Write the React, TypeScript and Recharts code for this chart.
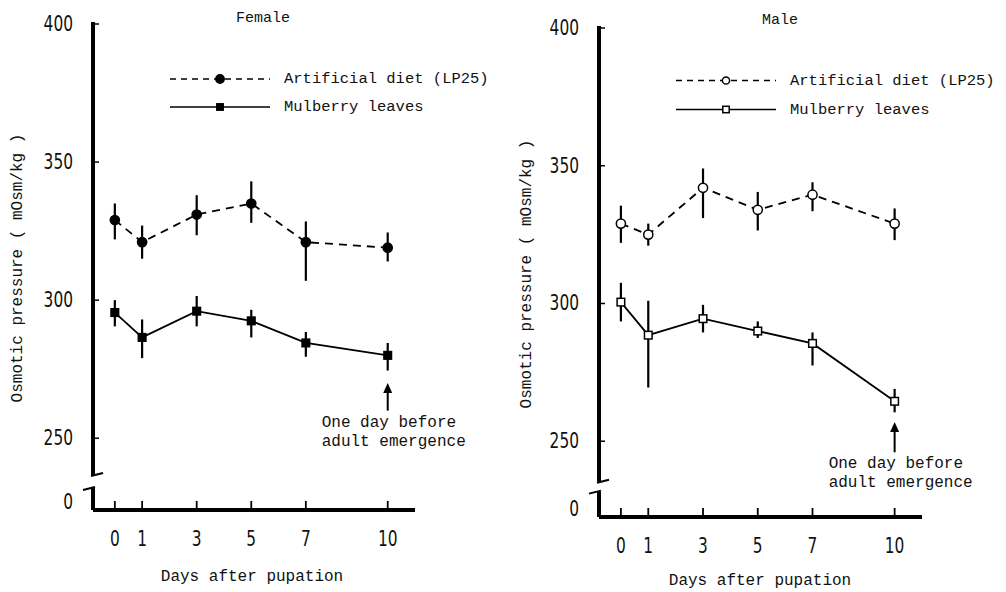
import React from "react";
import { ErrorBar, Legend, Line, LineChart, ReferenceLine, XAxis, YAxis } from "recharts";

const days = [0, 1, 3, 5, 7, 10];
const yTicks = [250, 300, 350, 400];

const femaleDietMean = [329, 321, 331, 335, 321, 319];
const femaleDietLow = [322, 315, 323.5, 328, 307, 314];
const femaleDietHigh = [335, 327, 338, 343, 328.5, 324.5];
const femaleLeafMean = [295.5, 286.5, 296, 292.5, 284.5, 280];
const femaleLeafLow = [290.5, 279, 290.5, 286.5, 279.5, 274.5];
const femaleLeafHigh = [300, 293, 301.5, 296.5, 288.5, 284.5];

const maleDietMean = [329, 325, 342, 334, 339.5, 329];
const maleDietLow = [322, 321, 331, 326.5, 333.5, 323];
const maleDietHigh = [335.5, 329, 349, 340.5, 344, 334.5];
const maleLeafMean = [300.5, 288.5, 294.5, 290, 285.5, 264.5];
const maleLeafLow = [293.5, 269.5, 289.5, 287.5, 277.5, 260.5];
const maleLeafHigh = [307.5, 301, 299.5, 293.5, 289.5, 269];

const MONO = '"Liberation Mono", "DejaVu Sans Mono", monospace';
const NUM = '"Liberation Sans Narrow", "DejaVu Sans Condensed", "Liberation Sans", sans-serif';

type PanelProps = {
  title: string;
  left: number;
  margin: { top: number; right: number; bottom: number; left: number };
  zero: number;
  breakTop: number;
  breakBottom: number;
  arrowBase: number;
  arrowTip: number;
  hollow: boolean;
  dietMean: number[];
  dietLow: number[];
  dietHigh: number[];
  leafMean: number[];
  leafLow: number[];
  leafHigh: number[];
  legendTop: number;
  legendRow: number;
  titleX: number;
  titleY: number;
  yTitleX: number;
  yTitleY: number;
  xTitleX: number;
  xTitleY: number;
};

function Marker({ kind, cx, cy, hollow, size }: any) {
  const fill = hollow ? "#fff" : "#000";
  if (kind === "circle") {
    return <circle cx={cx} cy={cy} r={size} fill={fill} stroke="#000" strokeWidth={1.5} />;
  }
  return (
    <rect x={cx - size} y={cy - size} width={size * 2} height={size * 2} fill={fill} stroke="#000" strokeWidth={1.5} />
  );
}

// narrow numerals, like the typed figures on the scan
function Num({ x, y, anchor, children }: any) {
  const label = String(children);
  return (
    <text
      x={x}
      y={y}
      textAnchor={anchor}
      dominantBaseline="central"
      fontFamily={NUM}
      fontSize={21}
      fill="#111"
      textLength={label.length * 9.8}
      lengthAdjust="spacingAndGlyphs"
    >
      {label}
    </text>
  );
}

function Panel(p: PanelProps) {
  const rows = days.map((day, i) => ({
    day,
    diet: p.dietMean[i],
    dietErr: [p.dietMean[i] - p.dietLow[i], p.dietHigh[i] - p.dietMean[i]],
    leaf: p.leafMean[i],
    leafErr: [p.leafMean[i] - p.leafLow[i], p.leafHigh[i] - p.leafMean[i]],
  }));
  const xMin = -0.8;
  const axisX = p.margin.left;

  const yTick = (props: any) => {
    const { y, payload } = props;
    const isZero = payload.value === p.zero;
    return (
      <g>
        {!isZero && <line x1={axisX} x2={axisX + 6} y1={y} y2={y} stroke="#000" strokeWidth={1.5} />}
        <Num x={axisX - 20} y={isZero ? y - 8 : y} anchor="end">
          {isZero ? "0" : payload.value}
        </Num>
      </g>
    );
  };

  const axisY = 592 - p.margin.bottom;
  const xTick = (props: any) => {
    const { x, payload } = props;
    return (
      <g>
        <line x1={x} x2={x} y1={axisY - 9} y2={axisY} stroke="#000" strokeWidth={1.8} />
        <Num x={x} y={axisY + 29} anchor="middle">
          {payload.value}
        </Num>
      </g>
    );
  };

  const upperAxis = (props: any) => {
    const { x1, y1, y2 } = props;
    const top = Math.min(y1, y2);
    const bottom = Math.max(y1, y2);
    return (
      <g>
        <line x1={x1} x2={x1} y1={top - 2} y2={bottom} stroke="#000" strokeWidth={4} />
        <line x1={x1 - 2} y1={bottom + 1} x2={x1 + 10} y2={bottom - 2} stroke="#000" strokeWidth={2} />
      </g>
    );
  };

  const lowerAxis = (props: any) => {
    const { x1, y1, y2 } = props;
    const top = Math.min(y1, y2);
    const bottom = Math.max(y1, y2);
    return (
      <g>
        <line x1={x1} x2={x1} y1={top} y2={bottom} stroke="#000" strokeWidth={4} />
        <line x1={x1 - 10} y1={top + 2} x2={x1 + 2} y2={top - 1} stroke="#000" strokeWidth={2} />
      </g>
    );
  };

  const arrow = (props: any) => {
    const { x1, y1, y2 } = props;
    const tip = Math.min(y1, y2);
    const base = Math.max(y1, y2);
    return (
      <g>
        <line x1={x1} x2={x1} y1={tip + 6} y2={base} stroke="#000" strokeWidth={2} />
        <polygon points={`${x1},${tip} ${x1 - 4.5},${tip + 10} ${x1 + 4.5},${tip + 10}`} fill="#000" />
        <text x={x1 - 66} y={base + 12} dominantBaseline="central" fontFamily={MONO} fontSize={16} fill="#111">
          One day before
        </text>
        <text x={x1 - 66} y={base + 31} dominantBaseline="central" fontFamily={MONO} fontSize={16} fill="#111">
          adult emergence
        </text>
      </g>
    );
  };

  const legendContent = (props: any) => (
    <div>
      {(props.payload || []).map((entry: any) => {
        const isDiet = entry.dataKey === "diet";
        return (
          <div key={entry.value} style={{ display: "flex", alignItems: "center", height: p.legendRow }}>
            <svg width={114} height={p.legendRow} style={{ display: "block" }}>
              <line x1={0} x2={100} y1={p.legendRow / 2} y2={p.legendRow / 2} stroke="#000" strokeWidth={1.6} strokeDasharray={isDiet ? "6 5" : undefined} />
              <Marker kind={isDiet ? "circle" : "square"} cx={50} cy={p.legendRow / 2} hollow={p.hollow} size={isDiet ? (p.hollow ? 3.6 : 4.2) : 3.2} />
            </svg>
            <span style={{ fontFamily: MONO, fontSize: 15.5, color: "#111", whiteSpace: "nowrap" }}>{entry.value}</span>
          </div>
        );
      })}
    </div>
  );

  const dot = (kind: string) => (props: any) => (
    <Marker key={`${kind}-${props.index}`} kind={kind} cx={props.cx} cy={props.cy} hollow={p.hollow} size={kind === "circle" ? 4.6 : 3.8} />
  );

  return (
    <div style={{ position: "absolute", left: p.left, top: 0, width: 500, height: 592 }}>
      <LineChart width={500} height={592} data={rows} margin={{ ...p.margin, left: p.margin.left - 10, bottom: p.margin.bottom - 10 }}>
        <XAxis
          dataKey="day"
          type="number"
          domain={[xMin, 11]}
          ticks={days}
          interval={0}
          height={10}
          axisLine={{ stroke: "#000", strokeWidth: 4 }}
          tickLine={false}
          tick={xTick}
        />
        <YAxis
          type="number"
          domain={[p.zero, 400]}
          ticks={[p.zero, ...yTicks]}
          interval={0}
          width={10}
          axisLine={false}
          tickLine={false}
          tick={yTick}
        />
        <ReferenceLine ifOverflow="visible" segment={[{ x: xMin, y: p.breakTop }, { x: xMin, y: 400 }]} shape={upperAxis} />
        <ReferenceLine ifOverflow="visible" segment={[{ x: xMin, y: p.zero }, { x: xMin, y: p.breakBottom }]} shape={lowerAxis} />
        <ReferenceLine ifOverflow="visible" segment={[{ x: 10, y: p.arrowBase }, { x: 10, y: p.arrowTip }]} shape={arrow} />
        <Legend
          layout="horizontal"
          verticalAlign="middle"
          align="center"
          content={legendContent}
          wrapperStyle={{ left: 170, top: p.legendTop, width: 330 }}
        />
        <Line
          dataKey="diet"
          name="Artificial diet (LP25)"
          stroke="#000"
          strokeWidth={1.8}
          strokeDasharray="8 6"
          dot={dot("circle")}
          activeDot={false}
          isAnimationActive={false}
        >
          <ErrorBar dataKey="dietErr" width={0} stroke="#000" strokeWidth={2.2} direction="y" />
        </Line>
        <Line
          dataKey="leaf"
          name="Mulberry leaves"
          stroke="#000"
          strokeWidth={1.8}
          dot={dot("square")}
          activeDot={false}
          isAnimationActive={false}
        >
          <ErrorBar dataKey="leafErr" width={0} stroke="#000" strokeWidth={2.2} direction="y" />
        </Line>
      </LineChart>
      <div style={{ position: "absolute", left: p.titleX, top: p.titleY, transform: "translate(-50%, -50%)", fontFamily: MONO, fontSize: 15, color: "#111" }}>
        {p.title}
      </div>
      <div style={{ position: "absolute", left: p.yTitleX, top: p.yTitleY, transform: "translate(-50%, -50%) rotate(-90deg)", fontFamily: MONO, fontSize: 16, color: "#111", whiteSpace: "nowrap" }}>
        Osmotic pressure ( mOsm/kg )
      </div>
      <div style={{ position: "absolute", left: p.xTitleX, top: p.xTitleY, transform: "translate(-50%, -50%)", fontFamily: MONO, fontSize: 16, color: "#111", whiteSpace: "nowrap" }}>
        Days after pupation
      </div>
    </div>
  );
}

export default function App() {
  return (
    <div style={{ position: "absolute", left: 0, top: 0, width: 1006, height: 592, background: "#fff", overflow: "hidden" }}>
      <Panel
        title="Female"
        left={0}
        margin={{ top: 24, right: 85, bottom: 82, left: 93 }}
        zero={224}
        breakTop={236.7}
        breakBottom={232}
        arrowBase={260}
        arrowTip={270}
        hollow={false}
        dietMean={femaleDietMean}
        dietLow={femaleDietLow}
        dietHigh={femaleDietHigh}
        leafMean={femaleLeafMean}
        leafLow={femaleLeafLow}
        leafHigh={femaleLeafHigh}
        legendTop={65}
        legendRow={28}
        titleX={263}
        titleY={18}
        yTitleX={18}
        yTitleY={268}
        xTitleX={252}
        xTitleY={577}
      />
      <Panel
        title="Male"
        left={506}
        margin={{ top: 28, right: 84, bottom: 75, left: 93 }}
        zero={222.5}
        breakTop={235.3}
        breakBottom={231.7}
        arrowBase={246}
        arrowTip={257}
        hollow={true}
        dietMean={maleDietMean}
        dietLow={maleDietLow}
        dietHigh={maleDietHigh}
        leafMean={maleLeafMean}
        leafLow={maleLeafLow}
        leafHigh={maleLeafHigh}
        legendTop={66}
        legendRow={29}
        titleX={274}
        titleY={20}
        yTitleX={21}
        yTitleY={274}
        xTitleX={254}
        xTitleY={581}
      />
    </div>
  );
}
